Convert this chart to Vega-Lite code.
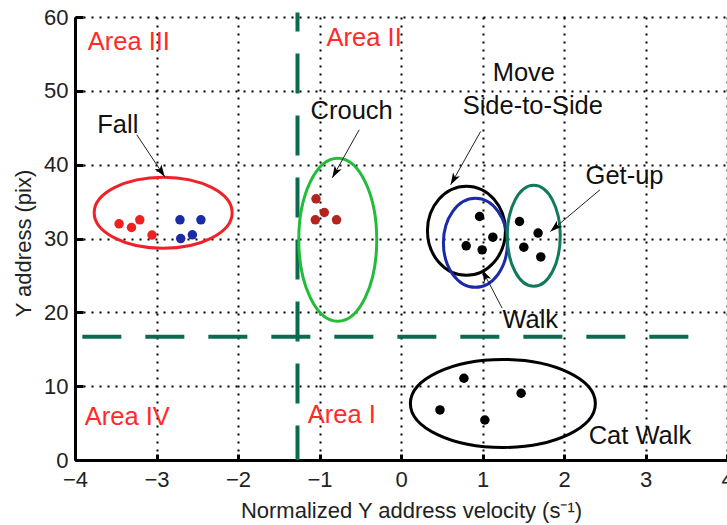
{
  "$schema": "https://vega.github.io/schema/vega-lite/v6.json",
  "width": 652,
  "height": 443,
  "autosize": {"type": "none"},
  "padding": {"left": 75, "top": 17, "right": 0, "bottom": 65},
  "background": "white",
  "config": {
    "view": {"stroke": null},
    "font": "Liberation Sans",
    "axis": {
      "domainColor": "#000",
      "domainWidth": 3,
      "tickColor": "#000",
      "tickWidth": 3,
      "labelColor": "#222",
      "labelFontSize": 22,
      "labelFlush": false,
      "labelOverlap": false,
      "format": "d",
      "titleColor": "#222",
      "titleFontSize": 22,
      "titleFontWeight": "normal",
      "grid": true,
      "gridColor": "#000",
      "gridDash": [2, 6],
      "gridWidth": 2,
      "gridOpacity": 1
    }
  },
  "datasets": {
    "dots": [
      {"cluster": "Fall (red)", "x": -3.459, "y": 31.99},
      {"cluster": "Fall (red)", "x": -3.307, "y": 31.49},
      {"cluster": "Fall (red)", "x": -3.205, "y": 32.53},
      {"cluster": "Fall (red)", "x": -3.055, "y": 30.46},
      {"cluster": "Fall (blue)", "x": -2.712, "y": 32.53},
      {"cluster": "Fall (blue)", "x": -2.455, "y": 32.53},
      {"cluster": "Fall (blue)", "x": -2.56, "y": 30.5},
      {"cluster": "Fall (blue)", "x": -2.703, "y": 29.99},
      {"cluster": "Crouch", "x": -1.043, "y": 35.38},
      {"cluster": "Crouch", "x": -0.941, "y": 33.52},
      {"cluster": "Crouch", "x": -1.051, "y": 32.53},
      {"cluster": "Crouch", "x": -0.791, "y": 32.53},
      {"cluster": "Walk", "x": 0.964, "y": 32.98},
      {"cluster": "Walk", "x": 0.8, "y": 29.01},
      {"cluster": "Walk", "x": 1.127, "y": 30.18},
      {"cluster": "Walk", "x": 0.996, "y": 28.46},
      {"cluster": "Get-up", "x": 1.454, "y": 32.3},
      {"cluster": "Get-up", "x": 1.682, "y": 30.73},
      {"cluster": "Get-up", "x": 1.507, "y": 28.83},
      {"cluster": "Get-up", "x": 1.715, "y": 27.51},
      {"cluster": "Cat Walk", "x": 0.478, "y": 6.78},
      {"cluster": "Cat Walk", "x": 0.772, "y": 11.07},
      {"cluster": "Cat Walk", "x": 1.474, "y": 9.04},
      {"cluster": "Cat Walk", "x": 1.029, "y": 5.42}
    ],
    "ellipses": [
      {"name": "Fall", "x": -2.918, "y": 33.48},
      {"name": "Crouch", "x": -0.776, "y": 29.82},
      {"name": "Move Side-to-Side", "x": 0.803, "y": 31.04},
      {"name": "Walk", "x": 0.913, "y": 29.41},
      {"name": "Get-up", "x": 1.629, "y": 30.36},
      {"name": "Cat Walk", "x": 1.25, "y": 7.66}
    ],
    "arrows": [
      {"label": "Fall", "x": -3.242, "y": 44.05, "x2": -2.899, "y2": 38.36, "heading": 146.3},
      {"label": "Crouch", "x": -0.513, "y": 44.73, "x2": -0.843, "y2": 38.22, "heading": 209.4},
      {"label": "Move Side-to-Side", "x": 0.977, "y": 44.5, "x2": 0.609, "y2": 37.27, "heading": 209.4},
      {"label": "Get-up", "x": 2.441, "y": 36.6, "x2": 1.833, "y2": 30.94, "heading": 229.2},
      {"label": "Walk", "x": 1.241, "y": 20.56, "x2": 0.996, "y2": 25.75, "heading": 332.4}
    ],
    "annotations": [
      {"text": "Fall", "x": -3.475, "y": 45.4},
      {"text": "Crouch", "x": -0.605, "y": 47.3},
      {"text": "Move", "x": 1.507, "y": 52.45},
      {"text": "Side-to-Side", "x": 1.617, "y": 47.98},
      {"text": "Get-up", "x": 2.743, "y": 38.49},
      {"text": "Walk", "x": 1.586, "y": 18.98},
      {"text": "Cat Walk", "x": 2.932, "y": 3.19}
    ],
    "areas": [
      {"text": "Area III", "x": -3.34, "y": 56.66},
      {"text": "Area II", "x": -0.452, "y": 57.2},
      {"text": "Area IV", "x": -3.358, "y": 5.83},
      {"text": "Area I", "x": -0.727, "y": 6.1}
    ]
  },
  "layer": [
    {
      "data": {"values": [{"x": -1.27, "x2": -1.27, "y": 60.6, "y2": 0}]},
      "mark": {"type": "rule", "color": "#0b6b4f", "strokeWidth": 4, "strokeDash": [40, 22], "strokeDashOffset": 21},
      "encoding": {
        "x": {"field": "x", "type": "quantitative", "scale": {"domain": [-4, 4], "nice": false, "zero": false}, "title": "Normalized Y address velocity (s⁻¹)",
          "axis": {"values": [-4, -3, -2, -1, 0, 1, 2, 3, 4], "tickSize": -6, "labelPadding": 15, "titleX": 336, "titleY": 57, "titleBaseline": "alphabetic"}},
        "y": {"field": "y", "type": "quantitative", "scale": {"domain": [0, 60], "nice": false, "zero": false}, "title": "Y address (pix)",
          "axis": {"values": [0, 10, 20, 30, 40, 50, 60], "tickSize": -8, "labelPadding": 15, "titleX": -45, "titleY": 226, "titleBaseline": "alphabetic"}},
        "x2": {"field": "x2"},
        "y2": {"field": "y2"}
      }
    },
    {
      "data": {"values": [{"x": -3.91, "x2": 3.55, "y": 16.7, "y2": 16.7}]},
      "mark": {"type": "rule", "color": "#0b6b4f", "strokeWidth": 4, "strokeDash": [39, 24]},
      "encoding": {
        "x": {"field": "x", "type": "quantitative"},
        "y": {"field": "y", "type": "quantitative"},
        "x2": {"field": "x2"},
        "y2": {"field": "y2"}
      }
    },
    {
      "data": {"name": "ellipses"},
      "mark": {"type": "point", "filled": false, "size": 4, "strokeWidth": 3, "opacity": 1},
      "encoding": {
        "x": {"field": "x", "type": "quantitative"},
        "y": {"field": "y", "type": "quantitative"},
        "shape": {"field": "name", "type": "nominal", "legend": null,
          "scale": {"domain": ["Fall", "Crouch", "Move Side-to-Side", "Walk", "Get-up", "Cat Walk"],
            "range": [
              "M -69 0 A 69 35.5 0 1 0 69 0 A 69 35.5 0 1 0 -69 0 Z",
              "M -39 0 A 39 81.5 0 1 0 39 0 A 39 81.5 0 1 0 -39 0 Z",
              "M -39 0 A 39 44.5 0 1 0 39 0 A 39 44.5 0 1 0 -39 0 Z",
              "M -32 0 A 32 44.5 0 1 0 32 0 A 32 44.5 0 1 0 -32 0 Z",
              "M -26.5 0 A 26.5 50.5 0 1 0 26.5 0 A 26.5 50.5 0 1 0 -26.5 0 Z",
              "M -92.5 0 A 92.5 44 0 1 0 92.5 0 A 92.5 44 0 1 0 -92.5 0 Z"
            ]}},
        "stroke": {"field": "name", "type": "nominal", "legend": null,
          "scale": {"domain": ["Fall", "Crouch", "Move Side-to-Side", "Walk", "Get-up", "Cat Walk"],
            "range": ["#ee2229", "#22bb3a", "#000000", "#1b2ba6", "#127a5c", "#000000"]}}
      }
    },
    {
      "data": {"name": "dots"},
      "mark": {"type": "point", "filled": true, "opacity": 1, "strokeWidth": 0},
      "encoding": {
        "x": {"field": "x", "type": "quantitative"},
        "y": {"field": "y", "type": "quantitative"},
        "fill": {"field": "cluster", "type": "nominal", "legend": null,
          "scale": {"domain": ["Fall (red)", "Fall (blue)", "Crouch", "Walk", "Get-up", "Cat Walk"],
            "range": ["#ee2020", "#1b2ba6", "#b3241f", "#000000", "#000000", "#000000"]}},
        "size": {"field": "cluster", "type": "ordinal", "legend": null,
          "scale": {"domain": ["Fall (red)", "Fall (blue)", "Crouch", "Walk", "Get-up", "Cat Walk"],
            "range": [90, 90, 75, 95, 95, 145]}}
      }
    },
    {
      "data": {"name": "arrows"},
      "mark": {"type": "rule", "color": "#222", "strokeWidth": 1},
      "encoding": {
        "x": {"field": "x", "type": "quantitative"},
        "y": {"field": "y", "type": "quantitative"},
        "x2": {"field": "x2"},
        "y2": {"field": "y2"}
      }
    },
    {
      "data": {"name": "arrows"},
      "mark": {"type": "point", "filled": true, "size": 4, "color": "#000", "opacity": 1, "strokeWidth": 0,
        "shape": "M 0 0 L -4 12 L 0 9 L 4 12 Z"},
      "encoding": {
        "x": {"field": "x2", "type": "quantitative"},
        "y": {"field": "y2", "type": "quantitative"},
        "angle": {"field": "heading", "type": "quantitative", "scale": null}
      }
    },
    {
      "data": {"name": "annotations"},
      "mark": {"type": "text", "fontSize": 25.5, "color": "#111", "align": "center", "baseline": "middle"},
      "encoding": {
        "x": {"field": "x", "type": "quantitative"},
        "y": {"field": "y", "type": "quantitative"},
        "text": {"field": "text"}
      }
    },
    {
      "data": {"name": "areas"},
      "mark": {"type": "text", "fontSize": 25.5, "color": "#ff2a2a", "align": "center", "baseline": "middle"},
      "encoding": {
        "x": {"field": "x", "type": "quantitative"},
        "y": {"field": "y", "type": "quantitative"},
        "text": {"field": "text"}
      }
    }
  ]
}
